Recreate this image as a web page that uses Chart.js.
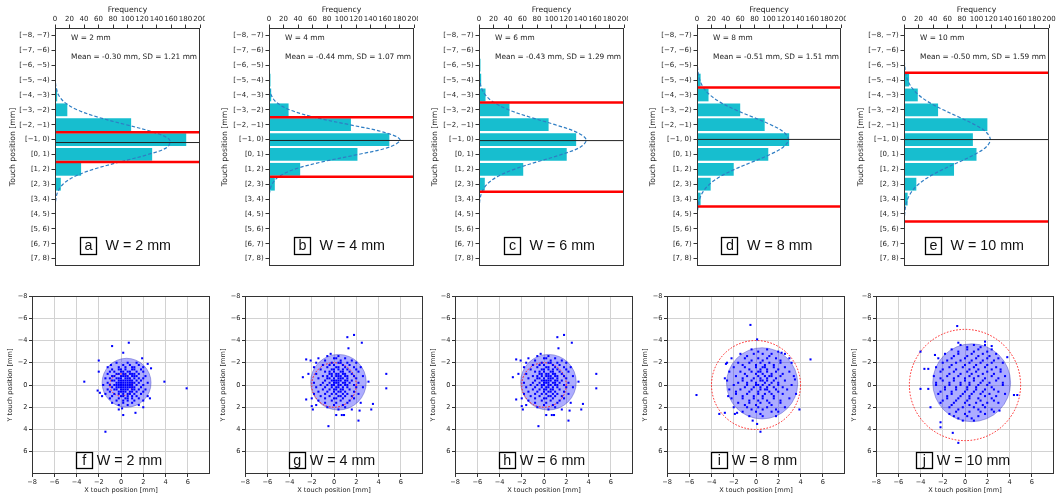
<!DOCTYPE html>
<html>
<head>
<meta charset="utf-8">
<script src="https://cdn.jsdelivr.net/npm/chart.js@4.4.0/dist/chart.umd.min.js"></script>
<style>
body { margin: 0; background: #fff; }
#wrap { position: relative; width: 1058px; height: 500px; overflow: hidden; background: #fff; }
canvas { position: absolute; }
</style>
</head>
<body>
<div id="wrap"></div>
<script>
// ---- data ----
const letters = ['a', 'b', 'c', 'd', 'e'];
const letters2 = ['f', 'g', 'h', 'i', 'j'];
const widths = [2, 4, 6, 8, 10];
const means = [-0.30, -0.44, -0.43, -0.51, -0.50];
const sds = [1.21, 1.07, 1.29, 1.51, 1.59];

const binLabels = ['[\u22128, \u22127)', '[\u22127, \u22126)', '[\u22126, \u22125)', '[\u22125, \u22124)', '[\u22124, \u22123)',
  '[\u22123, \u22122)', '[\u22122, \u22121)', '[\u22121, 0)', '[0, 1)', '[1, 2)', '[2, 3)', '[3, 4)', '[4, 5)', '[5, 6)', '[6, 7)', '[7, 8)'];
const binCenters = [-7.5, -6.5, -5.5, -4.5, -3.5, -2.5, -1.5, -0.5, 0.5, 1.5, 2.5, 3.5, 4.5, 5.5, 6.5, 7.5];

const countsA = [0, 0, 1, 0, 3, 17, 105, 181, 134, 36, 8, 1, 0, 0, 0, 0];
const countsB = [0, 0, 1, 2, 3, 27, 113, 166, 122, 43, 8, 0, 0, 0, 0, 0];
const countsC = [0, 0, 2, 3, 9, 42, 96, 134, 121, 61, 8, 1, 0, 0, 0, 0];
const countsD = [0, 0, 1, 5, 16, 60, 94, 128, 99, 51, 19, 5, 0, 0, 0, 0];
const countsE = [0, 0, 0, 7, 19, 47, 115, 95, 100, 69, 17, 5, 0, 0, 0, 0];

const curveY = [-8, -7.5, -7, -6.5, -6, -5.5, -5, -4.5, -4, -3.5, -3, -2.5, -2, -1.5, -1, -0.5, 0,
  0.5, 1, 1.5, 2, 2.5, 3, 3.5, 4, 4.5, 5, 5.5, 6, 6.5, 7, 7.5, 8];
const curveA = [0, 0, 0, 0, 0, 0, 0.1, 0.4, 1.5, 4.9, 13.3, 30.6, 59.6, 97.8, 135.4, 157.8, 155.2, 128.6, 89.8, 52.9, 26.3, 11.0, 3.9, 1.2, 0.3, 0.1, 0, 0, 0, 0, 0, 0, 0];
const curveB = [0, 0, 0, 0, 0, 0, 0, 0.1, 0.7, 3.0, 10.3, 28.4, 62.5, 110.8, 157.8, 180.7, 166.3, 123.1, 73.2, 35.0, 13.4, 4.2, 1.0, 0.2, 0, 0, 0, 0, 0, 0, 0, 0, 0];
const curveC = [0, 0, 0, 0, 0, 0.1, 0.3, 1.0, 3.2, 8.7, 20.3, 40.8, 70.6, 104.9, 134.2, 147.8, 140.0, 114.1, 80.0, 48.3, 25.1, 11.2, 4.3, 1.4, 0.4, 0.1, 0, 0, 0, 0, 0, 0, 0];
const curveD = [0, 0, 0, 0.1, 0.2, 0.5, 1.5, 3.9, 8.8, 17.9, 32.6, 53.3, 78.1, 102.4, 120.5, 127.0, 120.0, 101.5, 77.0, 52.4, 31.9, 17.4, 8.5, 3.7, 1.5, 0.5, 0.2, 0, 0, 0, 0, 0, 0];
const curveE = [0, 0, 0, 0.1, 0.3, 0.9, 2.2, 5.0, 10.6, 20.1, 34.6, 53.9, 76.3, 97.6, 113.3, 119.0, 113.3, 97.6, 76.3, 53.9, 34.6, 20.1, 10.6, 5.0, 2.2, 0.9, 0.3, 0.1, 0, 0, 0, 0, 0];

const freqTicks = [0, 20, 40, 60, 80, 100, 120, 140, 160, 180, 200];
const posTicks = [-8, -6, -4, -2, 0, 2, 4, 6];

// spread circle (centre, radius) and target radius of the lower panels
const spreadX = [0.5, 0.4, 0.4, 0.55, 0.6];
const spreadY = [-0.2, -0.25, -0.25, -0.15, -0.2];
const spreadR = [2.2, 2.5, 2.5, 3.2, 3.5];
const targetR = [1, 2, 2, 4, 5];

const fPts = [[0.7,-3.8],[-0.8,-3.5],[0.2,-2.9],[-2.0,-2.2],[1.9,-2.4],[2.7,-1.5],[-2.0,-1.2],[-3.3,-0.3],[3.9,-0.3],[5.9,0.3],
  [-2.1,0.5],[-1.9,0.7],[2.6,1.2],[2.0,2.0],[0.1,2.1],[-0.2,2.2],[0.2,2.7],[1.3,2.5],[-1.4,4.2],[-1.7,1.0],[2.4,-1.9],
  [-0.4,-2.0],[0.6,-2.0],[1.4,-2.0],[-0.9,-1.8],[0.2,-1.8],[0.8,-1.8],[1.6,-1.8],
  [-1.2,-1.6],[-0.2,-1.6],[0.4,-1.6],[1.0,-1.6],[1.2,-1.6],[2.0,-1.6],
  [-0.8,-1.4],[-0.2,-1.4],[0.0,-1.4],[0.4,-1.4],[1.0,-1.4],[1.2,-1.4],[1.8,-1.4],
  [-1.0,-1.2],[-0.6,-1.2],[0.0,-1.2],[0.2,-1.2],[0.6,-1.2],[0.8,-1.2],[1.4,-1.2],[2.0,-1.2],
  [-1.2,-1.0],[-0.4,-1.0],[-0.2,-1.0],[0.2,-1.0],[0.4,-1.0],[0.8,-1.0],[1.0,-1.0],[1.2,-1.0],[1.6,-1.0],
  [-0.8,-0.8],[-0.6,-0.8],[0.0,-0.8],[0.2,-0.8],[0.4,-0.8],[0.6,-0.8],[1.0,-0.8],[1.2,-0.8],[1.4,-0.8],[2.2,-0.8],
  [-1.4,-0.6],[-1.0,-0.6],[-0.4,-0.6],[-0.2,-0.6],[0.0,-0.6],[0.4,-0.6],[0.6,-0.6],[0.8,-0.6],[1.2,-0.6],[1.6,-0.6],[2.0,-0.6],
  [-0.8,-0.4],[-0.6,-0.4],[-0.2,-0.4],[0.0,-0.4],[0.2,-0.4],[0.4,-0.4],[0.6,-0.4],[0.8,-0.4],[1.0,-0.4],[1.4,-0.4],[1.8,-0.4],
  [-1.2,-0.2],[-0.4,-0.2],[-0.2,-0.2],[0.0,-0.2],[0.2,-0.2],[0.4,-0.2],[0.6,-0.2],[0.8,-0.2],[1.0,-0.2],[1.2,-0.2],[1.6,-0.2],[2.4,-0.2],
  [-1.6,0.0],[-1.0,0.0],[-0.6,0.0],[-0.4,0.0],[-0.2,0.0],[0.0,0.0],[0.2,0.0],[0.4,0.0],[0.6,0.0],[0.8,0.0],[1.0,0.0],[1.4,0.0],[2.0,0.0],
  [-0.8,0.2],[-0.4,0.2],[-0.2,0.2],[0.0,0.2],[0.2,0.2],[0.4,0.2],[0.6,0.2],[0.8,0.2],[1.0,0.2],[1.2,0.2],[1.8,0.2],
  [-1.2,0.4],[-0.6,0.4],[-0.4,0.4],[0.0,0.4],[0.2,0.4],[0.4,0.4],[0.6,0.4],[1.0,0.4],[1.2,0.4],[1.6,0.4],[2.2,0.4],
  [-1.0,0.6],[-0.2,0.6],[0.0,0.6],[0.2,0.6],[0.4,0.6],[0.8,0.6],[1.0,0.6],[1.4,0.6],[2.0,0.6],
  [-1.4,0.8],[-0.6,0.8],[-0.2,0.8],[0.2,0.8],[0.6,0.8],[0.8,0.8],[1.2,0.8],[1.8,0.8],
  [-0.8,1.0],[0.0,1.0],[0.2,1.0],[0.6,1.0],[1.0,1.0],[1.4,1.0],[2.4,1.0],
  [-1.0,1.2],[-0.2,1.2],[0.4,1.2],[0.6,1.2],[1.0,1.2],[1.6,1.2],
  [-0.4,1.4],[0.2,1.4],[0.6,1.4],[1.2,1.4],[2.0,1.4],
  [-0.8,1.6],[0.2,1.6],[1.0,1.6],[-0.2,1.8],[0.6,1.8],[1.6,1.8]];

const gPts = [[1.2,-4.3],[1.8,-4.5],[2.5,-3.8],[1.3,-3.3],[-0.3,-2.8],[-2.5,-2.3],[-2.1,-2.2],[4.7,-1.0],[4.7,0.3],
  [-2.8,-0.7],[-2.3,-1.0],[3.1,-0.3],[3.5,1.7],[3.35,2.2],[2.3,2.3],[2.2,3.2],[-0.5,3.7],[0.2,2.7],[0.7,2.7],
  [0.9,2.7],[-2.5,1.3],[-2.0,1.9],[-1.9,2.2],
  [-0.6,-2.6],[0.4,-2.6],[-1.4,-2.4],[0.0,-2.4],[0.2,-2.4],[1.0,-2.4],[-0.8,-2.2],[0.6,-2.2],[1.6,-2.2],
  [-1.6,-2.0],[-0.2,-2.0],[0.4,-2.0],[0.6,-2.0],[1.2,-2.0],[2.0,-2.0],
  [-1.0,-1.8],[-0.4,-1.8],[0.0,-1.8],[0.8,-1.8],[1.4,-1.8],
  [-1.8,-1.6],[-0.6,-1.6],[0.2,-1.6],[0.4,-1.6],[1.0,-1.6],[1.8,-1.6],[2.4,-1.6],
  [-1.2,-1.4],[-0.2,-1.4],[0.0,-1.4],[0.4,-1.4],[0.8,-1.4],[1.2,-1.4],[2.0,-1.4],
  [-0.8,-1.2],[-0.4,-1.2],[0.0,-1.2],[0.6,-1.2],[0.8,-1.2],[1.4,-1.2],[2.2,-1.2],
  [-1.6,-1.0],[-0.4,-1.0],[-0.2,-1.0],[0.2,-1.0],[0.4,-1.0],[0.8,-1.0],[1.0,-1.0],[1.6,-1.0],
  [-1.0,-0.8],[-0.6,-0.8],[-0.2,-0.8],[0.2,-0.8],[0.4,-0.8],[0.6,-0.8],[1.0,-0.8],[1.2,-0.8],[1.8,-0.8],[2.6,-0.8],
  [-1.4,-0.6],[-0.6,-0.6],[-0.4,-0.6],[0.0,-0.6],[0.4,-0.6],[0.6,-0.6],[0.8,-0.6],[1.2,-0.6],[2.0,-0.6],
  [-0.8,-0.4],[-0.2,-0.4],[0.0,-0.4],[0.2,-0.4],[0.4,-0.4],[0.6,-0.4],[1.0,-0.4],[1.2,-0.4],[1.6,-0.4],
  [-1.8,-0.2],[-1.0,-0.2],[-0.4,-0.2],[0.0,-0.2],[0.2,-0.2],[0.4,-0.2],[0.8,-0.2],[1.0,-0.2],[1.4,-0.2],[2.2,-0.2],
  [-1.2,0.0],[-0.6,0.0],[-0.2,0.0],[0.0,0.0],[0.4,0.0],[0.6,0.0],[1.0,0.0],[1.2,0.0],[1.8,0.0],
  [-1.6,0.2],[-0.8,0.2],[-0.2,0.2],[0.2,0.2],[0.4,0.2],[0.8,0.2],[1.2,0.2],[2.0,0.2],[2.6,0.2],
  [-1.0,0.4],[-0.4,0.4],[0.0,0.4],[0.2,0.4],[0.6,0.4],[0.8,0.4],[1.4,0.4],
  [-1.4,0.6],[-0.6,0.6],[0.0,0.6],[0.4,0.6],[0.6,0.6],[1.0,0.6],[1.8,0.6],
  [-1.8,0.8],[-0.8,0.8],[-0.2,0.8],[0.2,0.8],[0.8,0.8],[1.2,0.8],[2.2,0.8],
  [-1.2,1.0],[-0.4,1.0],[0.4,1.0],[0.6,1.0],[1.0,1.0],[1.6,1.0],
  [-2.0,1.2],[-0.8,1.2],[0.0,1.2],[0.2,1.2],[0.8,1.2],[1.8,1.2],
  [-1.4,1.4],[-0.2,1.4],[0.6,1.4],[1.4,1.4],[-0.8,1.6],[0.2,1.6],[1.2,1.6],[2.4,1.6],
  [-1.6,1.8],[0.0,1.8],[0.8,1.8],[-0.6,2.0],[1.0,2.0],[0.4,2.2],[1.6,2.2]];

const iPts = [[-0.5,-5.4],[0.1,-4.1],[4.9,-2.3],[-5.35,0.9],[-3.3,2.6],[-2.8,2.5],[0.4,4.2],[0.1,3.5],[3.9,2.2],
  [2.3,-2.9],[-1.7,2.5],[-0.3,3.2],[-2.6,-2.0],[-2.7,-1.9],[-2.8,-0.6],[3.6,0.8],[3.5,-0.5],[-2.5,1.0],[-1.9,2.6],
  [-0.4,-3.2],[1.0,-3.2],[0.2,-3.0],[2.0,-3.0],[-1.4,-2.8],[-0.2,-2.8],[0.6,-2.8],[1.4,-2.8],[2.6,-2.8],
  [-0.8,-2.6],[1.2,-2.6],[-2.2,-2.4],[-1.0,-2.4],[0.2,-2.4],[1.0,-2.4],[1.8,-2.4],[3.0,-2.4],
  [-0.4,-2.2],[0.6,-2.2],[2.2,-2.2],[-1.6,-2.0],[-0.6,-2.0],[0.4,-2.0],[1.2,-2.0],[2.2,-2.0],[3.2,-2.0],
  [-1.2,-1.8],[0.0,-1.8],[0.8,-1.8],[1.6,-1.8],
  [-2.0,-1.6],[-1.0,-1.6],[0.0,-1.6],[0.6,-1.6],[0.8,-1.6],[1.6,-1.6],[2.6,-1.6],
  [-0.6,-1.4],[0.4,-1.4],[1.0,-1.4],[2.0,-1.4],
  [-2.4,-1.2],[-1.4,-1.2],[-0.4,-1.2],[0.2,-1.2],[0.4,-1.2],[1.0,-1.2],[1.8,-1.2],[3.0,-1.2],
  [-1.0,-1.0],[0.0,-1.0],[0.6,-1.0],[1.4,-1.0],[2.4,-1.0],
  [-1.8,-0.8],[-0.8,-0.8],[0.2,-0.8],[0.8,-0.8],[1.2,-0.8],[1.4,-0.8],[2.2,-0.8],[3.4,-0.8],
  [-1.2,-0.6],[-0.2,-0.6],[0.4,-0.6],[1.0,-0.6],[1.8,-0.6],
  [-2.6,-0.4],[-1.2,-0.4],[-0.4,-0.4],[0.4,-0.4],[0.6,-0.4],[1.0,-0.4],[1.6,-0.4],[2.6,-0.4],
  [-1.6,-0.2],[-0.8,-0.2],[0.0,-0.2],[0.8,-0.2],[1.4,-0.2],[2.0,-0.2],
  [-2.0,0.0],[-0.8,0.0],[0.0,0.0],[0.2,0.0],[0.6,0.0],[1.2,0.0],[2.0,0.0],[3.2,0.0],
  [-1.0,0.2],[-0.2,0.2],[0.4,0.2],[1.0,0.2],[1.6,0.2],[2.4,0.2],
  [-2.4,0.4],[-1.4,0.4],[-0.4,0.4],[0.4,0.4],[0.8,0.4],[1.0,0.4],[1.8,0.4],[2.8,0.4],
  [-1.8,0.6],[-0.6,0.6],[0.2,0.6],[1.2,0.6],[2.0,0.6],
  [-1.8,0.8],[-0.8,0.8],[0.2,0.8],[0.8,0.8],[1.4,0.8],[2.4,0.8],
  [-1.2,1.0],[-0.2,1.0],[0.6,1.0],[1.6,1.0],
  [-2.2,1.2],[-1.2,1.2],[-0.2,1.2],[0.6,1.2],[1.6,1.2],[3.0,1.2],
  [-0.6,1.4],[0.2,1.4],[1.0,1.4],[2.2,1.4],
  [-1.6,1.6],[-0.6,1.6],[0.4,1.6],[1.2,1.6],[2.2,1.6],[-1.0,1.8],[0.0,1.8],[1.4,1.8],
  [-2.0,2.0],[-0.8,2.0],[0.2,2.0],[1.0,2.0],[2.6,2.0],[-0.4,2.2],[0.6,2.2],[1.8,2.2],
  [-1.2,2.4],[0.0,2.4],[1.4,2.4],[2.0,2.4],[0.4,2.6],[-0.6,2.8],[0.6,2.8],[1.8,2.8]];

const jPts = [[-0.7,-5.3],[-0.6,-3.8],[-4.0,-3.0],[-2.7,-2.7],[-3.65,-1.45],[-3.3,-1.45],[-4.0,0.35],[-3.3,0.35],
  [-3.1,2.0],[-2.2,3.35],[-2.2,3.8],[-1.1,4.3],[-0.6,5.2],[3.1,2.3],[4.4,0.9],[4.7,0.9],[2.4,-3.5],[1.8,-3.9],[3.8,-2.5],
  [-0.4,-3.6],[0.8,-3.6],[1.8,-3.6],[0.2,-3.4],[1.4,-3.4],[-1.2,-3.2],[0.2,-3.2],[1.2,-3.2],[2.4,-3.2],
  [-0.6,-3.0],[0.8,-3.0],[2.0,-3.0],[-1.8,-2.8],[-0.6,-2.8],[0.6,-2.8],[1.6,-2.8],[2.8,-2.8],
  [-1.0,-2.6],[0.2,-2.6],[1.2,-2.6],[2.2,-2.6],[-2.4,-2.4],[-1.2,-2.4],[0.0,-2.4],[1.0,-2.4],[2.0,-2.4],[3.0,-2.4],
  [-1.6,-2.2],[-0.4,-2.2],[0.6,-2.2],[1.6,-2.2],[2.6,-2.2],
  [-2.0,-2.0],[-0.8,-2.0],[0.4,-2.0],[1.4,-2.0],[2.4,-2.0],[3.4,-2.0],
  [-1.2,-1.8],[0.0,-1.8],[1.0,-1.8],[2.0,-1.8],
  [-2.6,-1.6],[-1.4,-1.6],[-0.2,-1.6],[0.8,-1.6],[1.8,-1.6],[2.8,-1.6],
  [-2.0,-1.4],[-0.8,-1.4],[0.4,-1.4],[1.2,-1.4],[2.4,-1.4],[3.2,-1.4],
  [-2.2,-1.2],[-1.0,-1.2],[0.2,-1.2],[1.0,-1.2],[2.0,-1.2],[3.2,-1.2],
  [-1.4,-1.0],[-0.4,-1.0],[0.6,-1.0],[1.6,-1.0],[2.6,-1.0],
  [-2.8,-0.8],[-1.6,-0.8],[-0.6,-0.8],[0.4,-0.8],[1.2,-0.8],[2.4,-0.8],[3.6,-0.8],
  [-2.2,-0.6],[-1.0,-0.6],[0.0,-0.6],[0.8,-0.6],[1.8,-0.6],[3.0,-0.6],
  [-2.0,-0.4],[-1.0,-0.4],[0.0,-0.4],[0.8,-0.4],[1.6,-0.4],[2.8,-0.4],
  [-2.6,-0.2],[-1.4,-0.2],[-0.4,-0.2],[0.4,-0.2],[1.4,-0.2],[2.2,-0.2],[3.4,-0.2],
  [-2.6,0.0],[-1.4,0.0],[-0.4,0.0],[0.4,0.0],[1.2,0.0],[2.0,0.0],[3.4,0.0],
  [-1.8,0.2],[-0.8,0.2],[0.2,0.2],[1.0,0.2],[2.4,0.2],
  [-1.8,0.4],[-0.8,0.4],[0.2,0.4],[1.0,0.4],[1.8,0.4],[2.6,0.4],
  [-2.2,0.6],[-1.2,0.6],[0.0,0.6],[0.8,0.6],[1.6,0.6],[3.0,0.6],
  [-2.4,0.8],[-1.2,0.8],[-0.2,0.8],[0.6,0.8],[1.4,0.8],[2.2,0.8],[3.6,0.8],
  [-1.6,1.0],[-0.4,1.0],[0.4,1.0],[1.8,1.0],[2.8,1.0],
  [-1.6,1.2],[-0.6,1.2],[0.4,1.2],[1.2,1.2],[2.4,1.2],
  [-2.0,1.4],[-0.8,1.4],[0.2,1.4],[1.4,1.4],[2.6,1.4],
  [-2.2,1.6],[-1.0,1.6],[0.0,1.6],[1.0,1.6],[2.0,1.6],[3.0,1.6],
  [-1.2,1.8],[0.4,1.8],[1.6,1.8],[-1.4,2.0],[-0.2,2.0],[0.8,2.0],[1.8,2.0],
  [-0.6,2.2],[1.2,2.2],[2.4,2.2],[-0.8,2.4],[0.4,2.4],[1.4,2.4],[2.6,2.4],
  [-1.4,2.6],[0.0,2.6],[1.8,2.6],[-1.0,2.8],[0.2,2.8],[1.2,2.8],[-0.6,3.0],[0.6,3.0],[-0.2,3.2],[0.8,3.2]];

const counts = [countsA, countsB, countsC, countsD, countsE];
const curves = [curveA, curveB, curveC, curveD, curveE];
const scatterPts = [fPts, gPts, gPts, iPts, jPts];

// ---- layout (pixels) ----
const topBoxes = [
  {cl: 0, cw: 205, L: 55, R: 200, tx: 12.7},
  {cl: 205, cw: 213, L: 269, R: 414, tx: 225},
  {cl: 415, cw: 213, L: 479, R: 624, tx: 435},
  {cl: 630, cw: 216, L: 697, R: 841, tx: 652.7},
  {cl: 845, cw: 213, L: 904, R: 1049, tx: 860.7}
];
const botBoxes = [
  {cl: 0, cw: 215, L: 32, R: 210, tx: 10},
  {cl: 212, cw: 215, L: 245, R: 423, tx: 223.3},
  {cl: 425, cw: 212, L: 455, R: 633, tx: 433.3},
  {cl: 636, cw: 213, L: 667, R: 845, tx: 645},
  {cl: 846, cw: 212, L: 876, R: 1054, tx: 854.7}
];
const TOP_H = 272, TOP_T = 28, TOP_B = 266;
const BOT_Y = 280, BOT_H = 220, BOT_T = 296, BOT_B = 474;

Chart.defaults.font.family = 'DejaVu Sans';
Chart.defaults.color = '#222';

const wrap = document.getElementById('wrap');

function addCanvas(left, top, w, h) {
  const cv = document.createElement('canvas');
  cv.width = w; cv.height = h;
  cv.style.left = left + 'px'; cv.style.top = top + 'px';
  cv.style.width = w + 'px'; cv.style.height = h + 'px';
  wrap.appendChild(cv);
  return cv;
}

function minusFmt(v) {
  return v < 0 ? '\u2212' + Math.abs(v) : String(v);
}

const frame = {
  id: 'frame',
  afterDatasetsDraw(c) {
    const a = c.chartArea, ctx = c.ctx;
    ctx.save();
    ctx.strokeStyle = '#333';
    ctx.lineWidth = 1;
    ctx.strokeRect(a.left + 0.5, a.top + 0.5, a.right - a.left - 1, a.bottom - a.top - 1);
    ctx.restore();
  }
};

// boxed panel letter + "W = .. mm"
const tag = {
  id: 'tag',
  afterDraw(c, args, o) {
    const a = c.chartArea, ctx = c.ctx;
    ctx.save();
    ctx.font = '14.3px "Liberation Sans", Arial, sans-serif';
    const tw = ctx.measureText(o.text).width;
    const bw = 16, bh = o.bh;
    const total = bw + o.gap + tw;
    const x0 = (a.left + a.right) / 2 - 2 - total / 2;
    const cy = a.bottom - o.up;
    ctx.strokeStyle = '#000';
    ctx.lineWidth = 1.3;
    ctx.strokeRect(Math.round(x0) + 0.5, Math.round(cy - bh / 2) + 0.5, bw, bh);
    ctx.fillStyle = '#111';
    ctx.textBaseline = 'middle';
    ctx.textAlign = 'center';
    ctx.fillText(o.letter, x0 + bw / 2 + 0.5, cy + 1);
    ctx.textAlign = 'left';
    ctx.fillText(o.text, x0 + bw + o.gap, cy + 1);
    ctx.restore();
  }
};

const notes = {
  id: 'notes',
  afterDraw(c, args, o) {
    const a = c.chartArea, ctx = c.ctx;
    ctx.save();
    ctx.font = '7.4px "DejaVu Sans"';
    ctx.fillStyle = '#222';
    ctx.textBaseline = 'middle';
    ctx.fillText(o.w, a.left + 16, 38);
    ctx.fillText(o.stats, a.left + 16, 57);
    ctx.restore();
  }
};

const circles = {
  id: 'circles',
  beforeDatasetsDraw(c, args, o) {
    const sx = c.scales.x, sy = c.scales.y, ctx = c.ctx, a = c.chartArea;
    ctx.save();
    ctx.beginPath();
    ctx.rect(a.left, a.top, a.right - a.left, a.bottom - a.top);
    ctx.clip();
    const px = sx.getPixelForValue(o.cx), py = sy.getPixelForValue(o.cy);
    const rx = Math.abs(sx.getPixelForValue(o.cx + o.r) - px);
    const ry = Math.abs(sy.getPixelForValue(o.cy + o.r) - py);
    ctx.beginPath();
    ctx.ellipse(px, py, rx, ry, 0, 0, Math.PI * 2);
    ctx.fillStyle = 'rgba(0, 0, 255, 0.32)';
    ctx.fill();
    ctx.strokeStyle = 'rgba(40, 40, 180, 0.45)';
    ctx.lineWidth = 0.8;
    ctx.stroke();
    const ox = sx.getPixelForValue(0), oy = sy.getPixelForValue(0);
    const trx = Math.abs(sx.getPixelForValue(o.tr) - ox);
    const try_ = Math.abs(sy.getPixelForValue(o.tr) - oy);
    ctx.beginPath();
    ctx.ellipse(ox, oy, trx, try_, 0, 0, Math.PI * 2);
    ctx.setLineDash([1.6, 1.6]);
    ctx.strokeStyle = '#ff2020';
    ctx.lineWidth = 1;
    ctx.stroke();
    ctx.restore();
  }
};

function makeTop(i) {
  const b = topBoxes[i];
  const cv = addCanvas(b.cl, 0, b.cw, TOP_H);
  const W = widths[i];
  new Chart(cv, {
    type: 'bar',
    data: {
      datasets: [
        {type: 'line', data: [{x: 0, y: means[i]}, {x: 200, y: means[i]}], borderColor: '#222', borderWidth: 1, pointRadius: 0, order: 1},
        {type: 'line', data: [{x: 0, y: -W / 2}, {x: 200, y: -W / 2}], borderColor: '#ff0000', borderWidth: 2.5, pointRadius: 0, order: 2},
        {type: 'line', data: [{x: 0, y: W / 2}, {x: 200, y: W / 2}], borderColor: '#ff0000', borderWidth: 2.5, pointRadius: 0, order: 2},
        {type: 'line', data: curveY.map((y, k) => ({x: curves[i][k], y: y})), borderColor: '#2f7ec4',
          borderDash: [3.5, 2], borderWidth: 1.2, pointRadius: 0, tension: 0.35, order: 3},
        {type: 'bar', data: binCenters.map((y, k) => ({x: counts[i][k], y: y})), backgroundColor: '#17becf',
          barPercentage: 1, categoryPercentage: 0.86, order: 4}
      ]
    },
    options: {
      indexAxis: 'y',
      responsive: false,
      animation: false,
      events: [],
      layout: {padding: {left: 0, top: 0, right: b.cl + b.cw - b.R, bottom: TOP_H - TOP_B}},
      plugins: {
        legend: {display: false},
        tooltip: {enabled: false},
        notes: {w: 'W = ' + W + ' mm', stats: 'Mean = ' + means[i].toFixed(2) + ' mm, SD = ' + sds[i].toFixed(2) + ' mm'},
        tag: {letter: letters[i], text: 'W = ' + W + ' mm', gap: 9.5, bh: 17, up: 20.5}
      },
      scales: {
        x: {
          type: 'linear', position: 'top', min: 0, max: 200,
          afterBuildTicks(s) { s.ticks = freqTicks.map(v => ({value: v})); },
          ticks: {autoSkip: false, maxRotation: 0, font: {size: 7}, color: '#222', padding: 1},
          grid: {display: true, drawOnChartArea: false, drawTicks: true, tickLength: 3.5, tickColor: '#333'},
          border: {display: false},
          title: {display: true, text: 'Frequency', font: {size: 7.7}, color: '#222', padding: {top: 5.4, bottom: 0}},
          afterFit(s) { s.height = TOP_T; s.paddingLeft = 0; s.paddingRight = 0; }
        },
        y: {
          type: 'linear', reverse: true, min: -8, max: 8, offset: false,
          afterBuildTicks(s) { s.ticks = binCenters.map(v => ({value: v})); },
          ticks: {autoSkip: false, font: {size: 7}, color: '#222', padding: 1.8,
            callback: v => binLabels[binCenters.indexOf(v)]},
          grid: {display: true, drawOnChartArea: false, offset: false, drawTicks: true, tickLength: 3.5, tickColor: '#333'},
          border: {display: false},
          title: {display: true, text: 'Touch position [mm]', font: {size: 7.7}, color: '#222',
            padding: {top: b.tx - b.cl - 4.6, bottom: 0}},
          afterFit(s) { s.width = b.L - b.cl; s.paddingTop = 0; s.paddingBottom = 0; }
        }
      }
    },
    plugins: [frame, notes, tag]
  });
}

function makeBottom(i) {
  const b = botBoxes[i];
  const cv = addCanvas(b.cl, BOT_Y, b.cw, BOT_H);
  new Chart(cv, {
    type: 'scatter',
    data: {
      datasets: [{
        data: scatterPts[i].map(p => ({x: p[0], y: p[1]})),
        pointStyle: 'rect', pointRadius: 1.45, backgroundColor: '#0000ff', borderWidth: 0
      }]
    },
    options: {
      responsive: false,
      animation: false,
      events: [],
      layout: {padding: {left: 0, top: BOT_T - BOT_Y, right: b.cl + b.cw - b.R, bottom: 0}},
      plugins: {
        legend: {display: false},
        tooltip: {enabled: false},
        circles: {cx: spreadX[i], cy: spreadY[i], r: spreadR[i], tr: targetR[i]},
        tag: {letter: letters2[i], text: 'W = ' + widths[i] + ' mm', gap: 5, bh: 16, up: 14.3}
      },
      scales: {
        x: {
          type: 'linear', min: -8, max: 8,
          afterBuildTicks(s) { s.ticks = posTicks.map(v => ({value: v})); },
          ticks: {autoSkip: false, maxRotation: 0, font: {size: 6.6}, color: '#222', padding: 1, callback: minusFmt},
          grid: {color: '#d2d2d2', tickColor: '#333', tickLength: 3},
          border: {display: false},
          title: {display: true, text: 'X touch position [mm]', font: {size: 6.6}, color: '#222', padding: {top: 0, bottom: 6}},
          afterFit(s) { s.height = BOT_Y + BOT_H - BOT_B; s.paddingLeft = 0; s.paddingRight = 0; }
        },
        y: {
          type: 'linear', reverse: true, min: -8, max: 8,
          afterBuildTicks(s) { s.ticks = posTicks.map(v => ({value: v})); },
          ticks: {autoSkip: false, font: {size: 6.6}, color: '#222', padding: 1.6, callback: minusFmt},
          grid: {color: '#d2d2d2', tickColor: '#333', tickLength: 3},
          border: {display: false},
          title: {display: true, text: 'Y touch position [mm]', font: {size: 6.6}, color: '#222',
            padding: {top: b.tx - b.cl - 4, bottom: 0}},
          afterFit(s) { s.width = b.L - b.cl; s.paddingTop = 0; s.paddingBottom = 0; }
        }
      }
    },
    plugins: [circles, frame, tag]
  });
}

for (let i = 0; i < 5; i++) {
  makeTop(i);
  makeBottom(i);
}
</script>
</body>
</html>
